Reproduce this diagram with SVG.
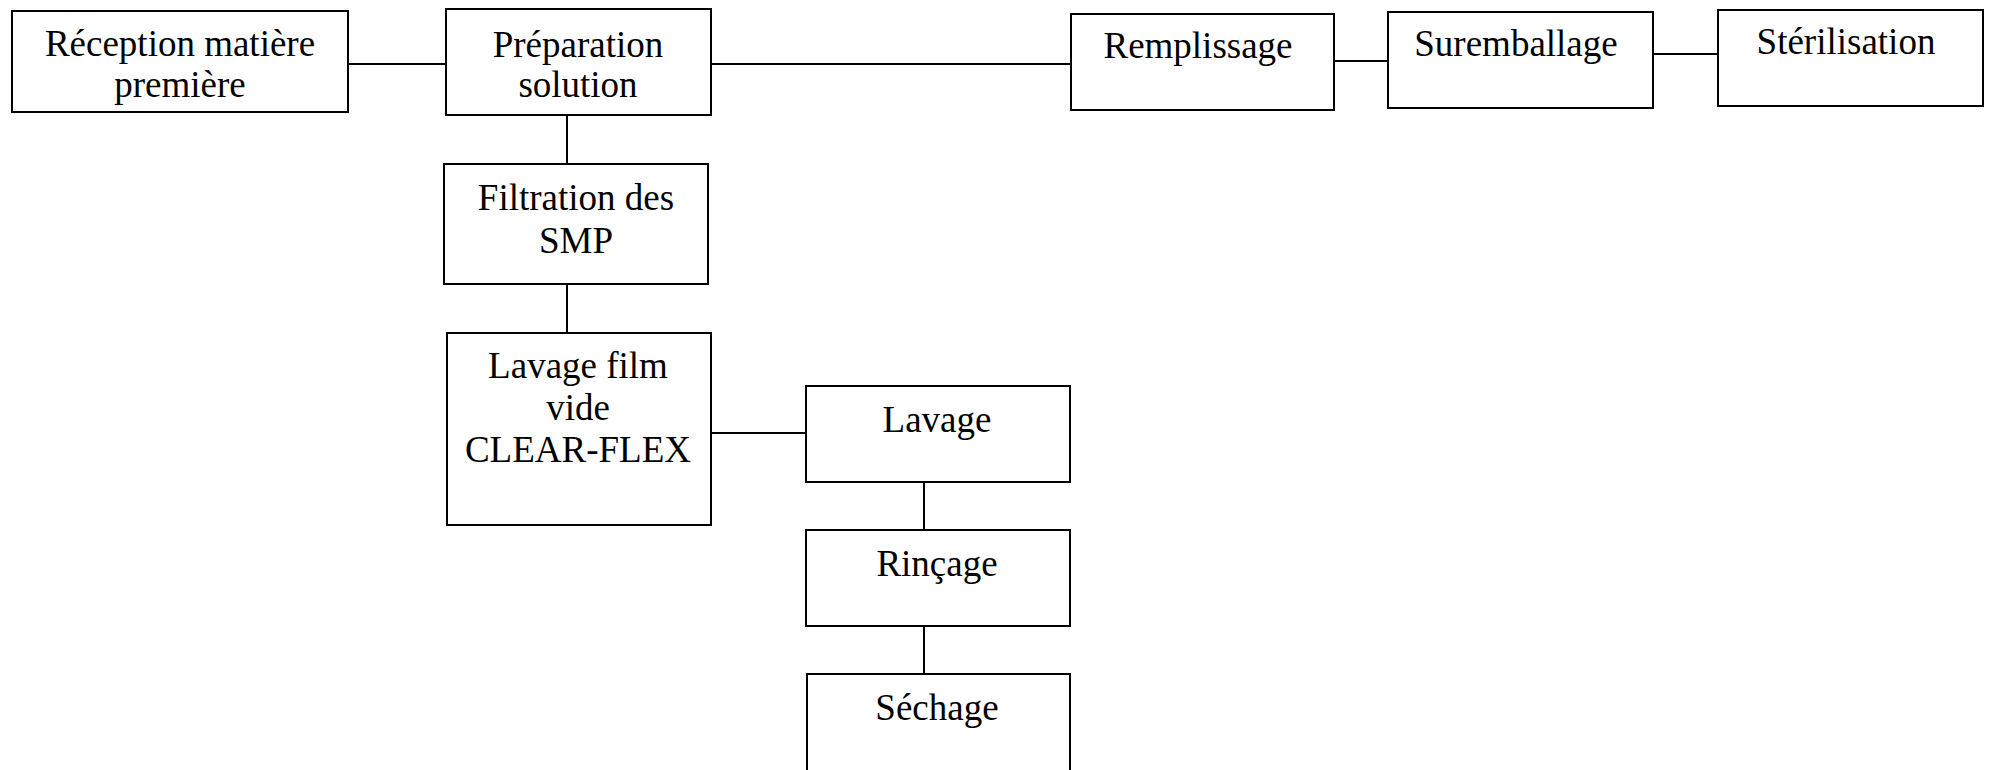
<svg xmlns="http://www.w3.org/2000/svg" width="1993" height="770" viewBox="0 0 1993 770">
<style>
.box{fill:#fff;stroke:#000;stroke-width:2}
.ln{stroke:#000;stroke-width:2;fill:none}
text{font-family:"Liberation Serif","Times New Roman",serif;font-size:37px;fill:#000;text-anchor:middle}
</style>
<rect width="1993" height="770" fill="#fff"/>
<g id="connectors">
<line class="ln" x1="348" y1="64" x2="446" y2="64"/>
<line class="ln" x1="711" y1="64" x2="1071" y2="64"/>
<line class="ln" x1="1334" y1="61" x2="1388" y2="61"/>
<line class="ln" x1="1653" y1="54" x2="1718" y2="54"/>
<line class="ln" x1="567" y1="115" x2="567" y2="164"/>
<line class="ln" x1="567" y1="284" x2="567" y2="333"/>
<line class="ln" x1="711" y1="433" x2="806" y2="433"/>
<line class="ln" x1="924" y1="482" x2="924" y2="530"/>
<line class="ln" x1="924" y1="626" x2="924" y2="674"/>
</g>
<g id="reception">
<rect class="box" x="12" y="11" width="336" height="101"/>
<text x="180" y="56">Réception matière</text>
<text x="180" y="97">première</text>
</g>
<g id="preparation">
<rect class="box" x="446" y="9" width="265" height="106"/>
<text x="578" y="57">Préparation</text>
<text x="578" y="97">solution</text>
</g>
<g id="remplissage">
<rect class="box" x="1071" y="14" width="263" height="96"/>
<text x="1198" y="58">Remplissage</text>
</g>
<g id="suremballage">
<rect class="box" x="1388" y="12" width="265" height="96"/>
<text x="1516" y="56">Suremballage</text>
</g>
<g id="sterilisation">
<rect class="box" x="1718" y="10" width="265" height="96"/>
<text x="1846" y="54">Stérilisation</text>
</g>
<g id="filtration">
<rect class="box" x="444" y="164" width="264" height="120"/>
<text x="576" y="210">Filtration des</text>
<text x="576" y="253">SMP</text>
</g>
<g id="lavage-film">
<rect class="box" x="447" y="333" width="264" height="192"/>
<text x="578" y="378">Lavage film</text>
<text x="578" y="420">vide</text>
<text x="578" y="462">CLEAR-FLEX</text>
</g>
<g id="lavage">
<rect class="box" x="806" y="386" width="264" height="96"/>
<text x="937" y="432">Lavage</text>
</g>
<g id="rincage">
<rect class="box" x="806" y="530" width="264" height="96"/>
<text x="937" y="576">Rinçage</text>
</g>
<g id="sechage">
<rect class="box" x="807" y="674" width="263" height="120"/>
<text x="937" y="720">Séchage</text>
</g>
</svg>
